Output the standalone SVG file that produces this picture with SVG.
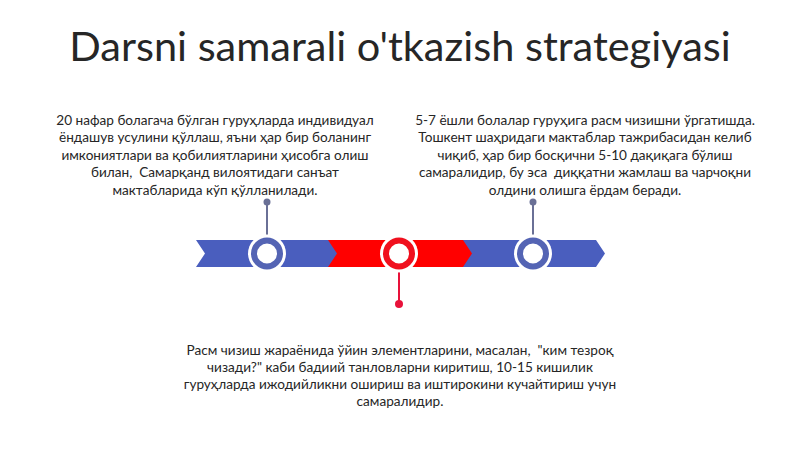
<svg xmlns="http://www.w3.org/2000/svg" width="800" height="449" viewBox="0 0 800 449">
<style>
.t{font-family:Lato,"Noto Sans",sans-serif;font-size:13.6px;fill:#262626;text-anchor:middle;white-space:pre}
.title{font-family:Lato,"Noto Sans",sans-serif;font-size:41.5px;fill:#262626;text-anchor:middle}
.blue{fill:#4A5EBE}
.red{fill:#FF0000}
</style>
<rect width="800" height="449" fill="#ffffff"/>
<text class="title" x="400" y="61">Darsni samarali o'tkazish strategiyasi</text>
<g id="connectors">
<line x1="267" y1="202" x2="267" y2="240" stroke="#6A7096" stroke-width="2"/>
<circle cx="267" cy="202" r="3.5" fill="#6A7096"/>
<line x1="533" y1="202" x2="533" y2="240" stroke="#6A7096" stroke-width="2"/>
<circle cx="533" cy="202" r="3.5" fill="#6A7096"/>
<line x1="399" y1="266" x2="399" y2="304" stroke="#E8123A" stroke-width="2"/>
<circle cx="399" cy="304" r="4" fill="#E8123A"/>
</g>
<g id="arrow1">
<polygon class="blue" points="196,240 330,240 339,253.5 330,267 196,267 205,253.5"/>
<circle cx="267" cy="253.5" r="19" fill="#ffffff"/>
<circle cx="267" cy="253.5" r="13" fill="#ffffff" stroke="#5464B4" stroke-width="6"/>
</g>
<g id="arrow2">
<polygon class="red" points="328,240 464,240 473,253.5 464,267 328,267 337,253.5"/>
<circle cx="399" cy="253.5" r="19" fill="#ffffff"/>
<circle cx="399" cy="253.5" r="13" fill="#ffffff" stroke="#F0101E" stroke-width="6"/>
</g>
<g id="arrow3">
<polygon class="blue" points="463,240 596,240 605,253.5 596,267 463,267 472,253.5"/>
<circle cx="533" cy="253.5" r="19" fill="#ffffff"/>
<circle cx="533" cy="253.5" r="13" fill="#ffffff" stroke="#5464B4" stroke-width="6"/>
</g>
<g id="text1">
<text class="t" x="215" y="124.5">20 нафар болагача бўлган гуруҳларда индивидуал</text>
<text class="t" x="215" y="142.1">ёндашув усулини қўллаш, яъни ҳар бир боланинг</text>
<text class="t" x="215" y="159.7">имкониятлари ва қобилиятларини ҳисобга олиш</text>
<text class="t" x="215" y="177.3">билан,  Самарқанд вилоятидаги санъат</text>
<text class="t" x="215" y="194.9">мактабларида кўп қўлланилади.</text>
</g>
<g id="text2">
<text class="t" x="585" y="124.5">5-7 ёшли болалар гуруҳига расм чизишни ўргатишда.</text>
<text class="t" x="585" y="142.1">Тошкент шаҳридаги мактаблар тажрибасидан келиб</text>
<text class="t" x="585" y="159.7">чиқиб, ҳар бир босқични 5-10 дақиқага бўлиш</text>
<text class="t" x="585" y="177.3">самаралидир, бу эса  диққатни жамлаш ва чарчоқни</text>
<text class="t" x="585" y="194.9">олдини олишга ёрдам беради.</text>
</g>
<g id="text3">
<text class="t" x="400" y="354.5">Расм чизиш жараёнида ўйин элементларини, масалан,  "ким тезроқ</text>
<text class="t" x="400" y="371.7">чизади?" каби бадиий танловларни киритиш, 10-15 кишилик</text>
<text class="t" x="400" y="388.9">гуруҳларда ижодийликни ошириш ва иштирокини кучайтириш учун</text>
<text class="t" x="400" y="406.1">самаралидир.</text>
</g>
</svg>
